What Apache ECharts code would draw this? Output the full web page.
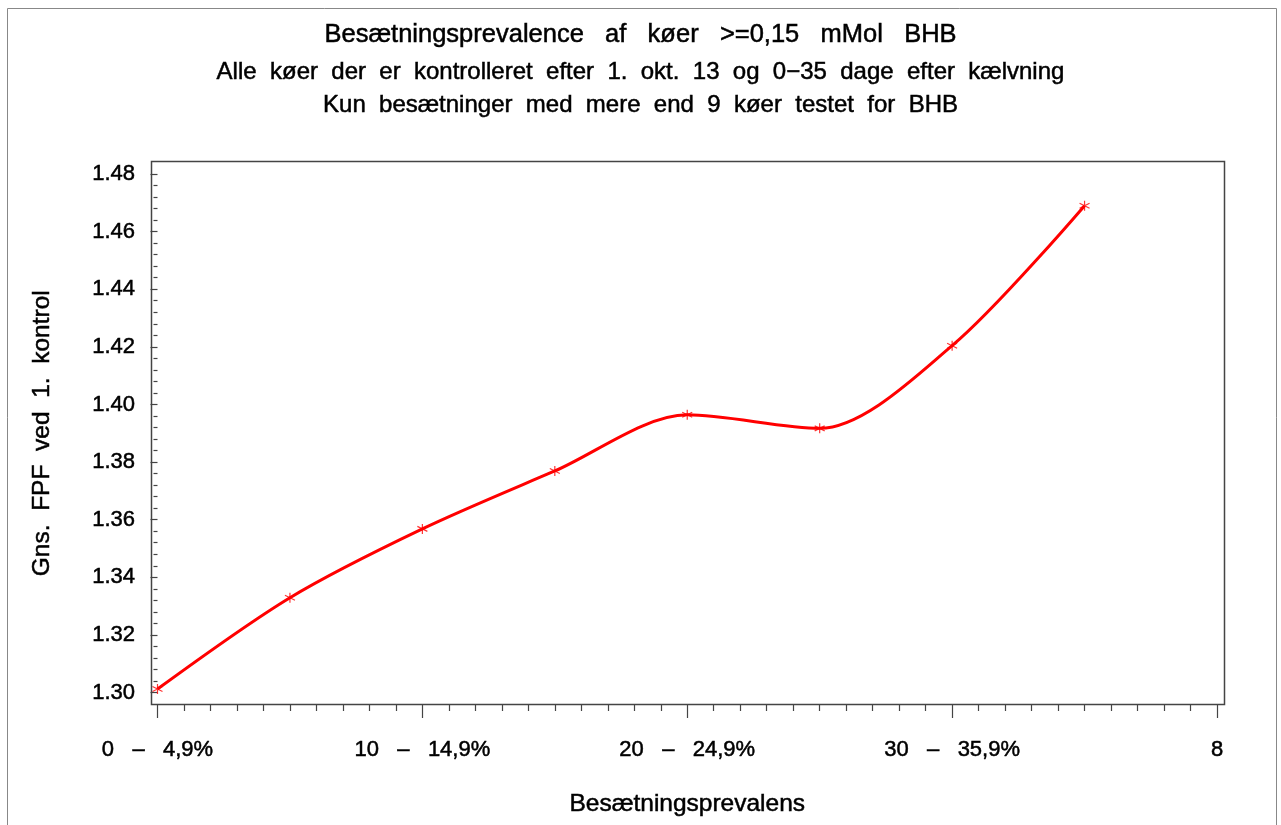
<!DOCTYPE html>
<html>
<head>
<meta charset="utf-8">
<title>Besætningsprevalence</title>
<script src="https://cdn.jsdelivr.net/npm/echarts@6/dist/echarts.min.js"></script>
<style>
  html, body { margin: 0; padding: 0; background: #fff; }
  #chart { width: 1281px; height: 825px; }
</style>
</head>
<body>
<div id="chart"></div>
<script>
// data
const xValues = [0, 1, 2, 3, 4, 5, 6, 7];
const fpfValues = [1.3012, 1.3329, 1.3568, 1.3769, 1.3964, 1.3917, 1.4204, 1.469];
const xTickLabels = ["0   \u2013   4,9%", "10   \u2013   14,9%", "20   \u2013   24,9%", "30   \u2013   35,9%", "8"];
const titleLines = [
  "Besætningsprevalence   af   køer   >=0,15   mMol   BHB",
  "Alle  køer  der  er  kontrolleret  efter  1.  okt.  13  og  0\u221235  dage  efter  kælvning",
  "Kun  besætninger  med  mere  end  9  køer  testet  for  BHB"
];

const font = "'Liberation Sans', Arial, sans-serif";
const frameColor = "#444";
// slight outline so the text looks as heavy as the original
const heavy = { textBorderColor: "#000", textBorderWidth: 0.5 };

let el = document.getElementById("chart");
let myChart = echarts.init(el);

let points = xValues.map((x, i) => [x, fpfValues[i]]);

myChart.setOption({
  animation: false,
  backgroundColor: "#fff",
  title: [
    { text: titleLines[0], left: "center", top: 17, textStyle: Object.assign({ fontFamily: font, fontSize: 25.5, fontWeight: "normal", color: "#000" }, heavy) },
    { text: titleLines[1], left: "center", top: 55, textStyle: Object.assign({ fontFamily: font, fontSize: 24, fontWeight: "normal", color: "#000" }, heavy) },
    { text: titleLines[2], left: "center", top: 88, textStyle: Object.assign({ fontFamily: font, fontSize: 24, fontWeight: "normal", color: "#000" }, heavy) }
  ],
  graphic: [
    // outer border
    { type: "rect", shape: { x: 7.5, y: 8.5, width: 1269, height: 840 }, style: { fill: "none", stroke: "#888", lineWidth: 1 }, silent: true },
    // plot frame
    { type: "rect", shape: { x: 151.5, y: 161.5, width: 1073, height: 543 }, style: { fill: "none", stroke: frameColor, lineWidth: 1.5 }, silent: true, z: 10 }
  ],
  grid: { left: 157.5, right: 64, top: 174, bottom: 132.5 },
  xAxis: {
    type: "value",
    min: 0,
    max: 8,
    interval: 2,
    offset: 11.5,
    name: "Besætningsprevalens",
    nameLocation: "middle",
    nameGap: 88,
    nameTextStyle: Object.assign({ fontFamily: font, fontSize: 24.5, color: "#000" }, heavy),
    axisLine: { show: false },
    axisTick: { show: true, length: 14, lineStyle: { color: frameColor, width: 1.2 } },
    minorTick: { show: true, splitNumber: 10, length: 7, lineStyle: { color: frameColor, width: 1.2 } },
    splitLine: { show: false },
    axisLabel: Object.assign({
      margin: 35,
      fontFamily: font,
      fontSize: 22,
      color: "#000",
      formatter: v => xTickLabels[Math.round(v / 2)]
    }, heavy)
  },
  yAxis: {
    type: "value",
    min: 1.30,
    max: 1.48,
    interval: 0.02,
    offset: 6.5,
    name: "Gns.  FPF  ved  1.  kontrol",
    nameLocation: "middle",
    nameGap: 96,
    nameTextStyle: Object.assign({ fontFamily: font, fontSize: 24.5, color: "#000" }, heavy),
    axisLine: { show: false },
    axisTick: { show: true, length: 7, lineStyle: { color: frameColor, width: 1.2 } },
    minorTick: { show: true, splitNumber: 5, length: 4, lineStyle: { color: frameColor, width: 1.2 } },
    splitLine: { show: false },
    axisLabel: Object.assign({
      margin: 16,
      fontFamily: font,
      fontSize: 22,
      color: "#000",
      formatter: v => v.toFixed(2)
    }, heavy)
  },
  series: [
    {
      name: "kurve",
      type: "line",
      data: points,
      smooth: 0.3,
      showSymbol: false,
      lineStyle: { color: "#ff0000", width: 3 },
      z: 2
    },
    {
      name: "punkter",
      type: "scatter",
      data: points,
      symbol: "path://M5,0 L5,10 M0.7,2.5 L9.3,7.5 M0.7,7.5 L9.3,2.5",
      symbolSize: 10,
      itemStyle: { color: "none", borderColor: "#ff0000", borderWidth: 1.2 },
      z: 3
    }
  ]
});
</script>
</body>
</html>
